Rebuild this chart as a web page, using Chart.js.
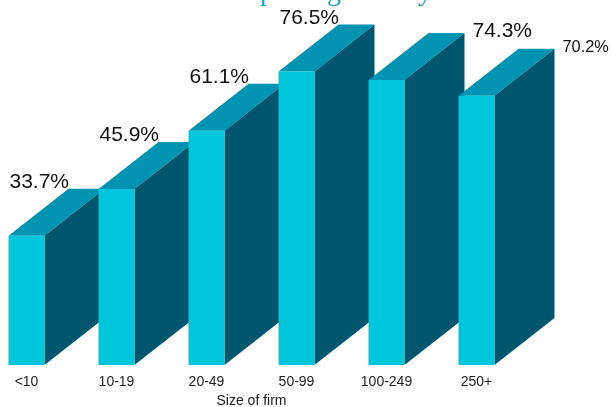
<!DOCTYPE html>
<html>
<head>
<meta charset="utf-8">
<script src="https://cdn.jsdelivr.net/npm/chart.js@4.4.0/dist/chart.umd.min.js"></script>
<style>
  html, body { margin: 0; padding: 0; background: #fff; }
</style>
</head>
<body>
<canvas id="firmChart" width="613" height="407"></canvas>
<script>
// data
const sizeLabels = ['<10', '10-19', '20-49', '50-99', '100-249', '250+'];
const shareValues = [33.7, 45.9, 61.1, 76.5, 74.3, 70.2];

Chart.defaults.font.family = "'Liberation Sans', Arial, sans-serif";

// draws the top and side of every bar, then the value labels
const depthPlugin = {
    id: 'depth',
    beforeDatasetsDraw(chart, args, opts) {
        const ctx = chart.ctx
        const bars = chart.getDatasetMeta(0).data
        bars.forEach(bar => {
            const { x, y, base, width } = bar.getProps(['x', 'y', 'base', 'width'], true)
            const l = x - width / 2
            const r = x + width / 2
            ctx.save()
            ctx.fillStyle = opts.topColor
            ctx.beginPath()
            ctx.moveTo(l, y)
            ctx.lineTo(r, y)
            ctx.lineTo(r + opts.dx, y - opts.dy)
            ctx.lineTo(l + opts.dx, y - opts.dy)
            ctx.closePath()
            ctx.fill()
            ctx.fillStyle = opts.sideColor
            ctx.beginPath()
            ctx.moveTo(r, y)
            ctx.lineTo(r + opts.dx, y - opts.dy)
            ctx.lineTo(r + opts.dx, base - opts.dy)
            ctx.lineTo(r, base)
            ctx.closePath()
            ctx.fill()
            ctx.restore()
        })
    },
    afterDatasetsDraw(chart, args, opts) {
        const ctx = chart.ctx
        const bars = chart.getDatasetMeta(0).data
        ctx.save()
        ctx.fillStyle = opts.labelColor
        ctx.textAlign = 'left'
        ctx.textBaseline = 'alphabetic'
        bars.forEach((bar, i) => {
            const { x, y, width } = bar.getProps(['x', 'y', 'width'], true)
            const text = shareValues[i].toFixed(1) + '%'
            let size = opts.labelSize
            ctx.font = size + 'px ' + Chart.defaults.font.family
            let tx, ty
            if (i < 4) {
                tx = x - width / 2 + 1
                ty = y - opts.dy - 1
            } else {
                tx = x + width / 2 + opts.dx + 8
                ty = y - opts.dy + 4
                const room = chart.width - tx - 4
                const w = ctx.measureText(text).width
                if (w > room) {
                    size = size * room / w
                    ctx.font = size + 'px ' + Chart.defaults.font.family
                    ty -= 1
                }
            }
            ctx.fillText(text, tx, ty)
        })
        ctx.restore()
    }
}

const ctx = document.getElementById('firmChart')
const firmChart = new Chart(ctx, {
    type: 'bar',
    data: {
        labels: sizeLabels,
        datasets: [{
            data: shareValues,
            backgroundColor: '#00c6dc',
            borderWidth: 0,
            categoryPercentage: 1,
            barPercentage: 0.4,
            clip: false
        }]
    },
    options: {
        responsive: false,
        animation: false,
        layout: {
            padding: { left: 26.5, right: 136.5, top: 0, bottom: 0 }
        },
        plugins: {
            legend: { display: false },
            tooltip: { enabled: false },
            title: {
                display: true,
                text: 'Share of firms reporting activity',
                color: '#1f9fc2',
                font: { family: "'Liberation Serif', serif", size: 28, weight: 'normal' },
                padding: { top: -24, bottom: -9 }
            },
            depth: {
                dx: 60,
                dy: 47,
                topColor: '#0093b2',
                sideColor: '#00566f',
                labelColor: '#111111',
                labelSize: 21
            }
        },
        scales: {
            x: {
                offset: false,
                grid: { display: false },
                border: { display: false },
                ticks: {
                    color: '#222222',
                    font: { size: 14 },
                    padding: 1,
                    maxRotation: 0,
                    autoSkip: false
                },
                title: {
                    display: true,
                    text: 'Size of firm',
                    color: '#222222',
                    font: { size: 14 },
                    padding: { top: 0, bottom: -3 }
                },
                afterFit: scale => { scale.height = 42 }
            },
            y: {
                display: false,
                min: 0,
                max: 95
            }
        }
    },
    plugins: [depthPlugin]
})
</script>
</body>
</html>
